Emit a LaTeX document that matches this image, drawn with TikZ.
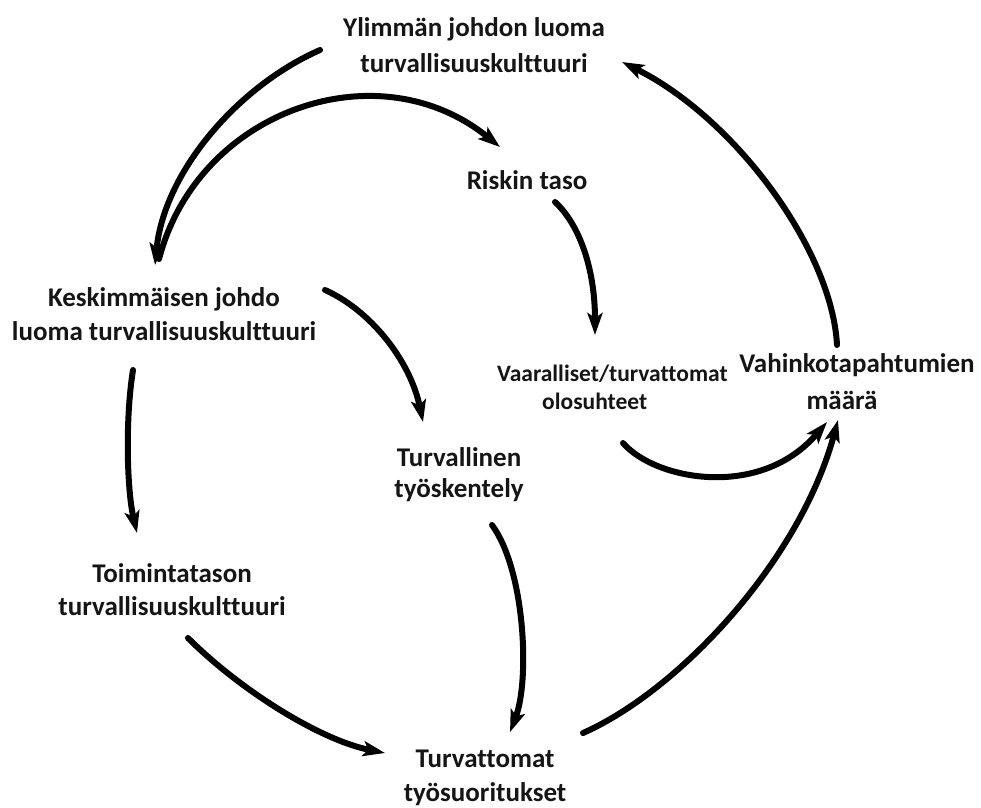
\documentclass[tikz,border=0pt]{standalone}
\usepackage{fontspec}
\setmainfont{Carlito}[Ligatures={NoCommon}]
\usetikzlibrary{arrows.meta}
\definecolor{txt}{HTML}{151515}
\begin{document}
\begin{tikzpicture}[x=1pt,y=-1pt,
  lbl/.style={font=\fontsize{27}{34}\selectfont\bfseries, align=center, inner sep=0pt, text=txt},
  arr/.style={line width=6pt, line cap=round, draw=black,
    -{Stealth[length=22pt,width=15pt,inset=5pt]}}]
\fill[white] (0,0) rectangle (981,807);
\useasboundingbox (0,0) rectangle (981,807);

% labels
\node[lbl, font=\fontsize{27}{36}\selectfont\bfseries] (ylim) at (474,45.5) {Ylimmän johdon luoma\\turvallisuuskulttuuri};
\node[lbl] (riski) at (527,180.5) {Riskin taso};
\node[lbl] (kesk) at (164,314.5) {Keskimmäisen johdo\\luoma turvallisuuskulttuuri};
\node[lbl, font=\fontsize{23.5}{28}\selectfont\bfseries, align=left, anchor=west] (vaar) at (497,387.5) {Vaaralliset/turvattomat\\\hspace*{45pt}olosuhteet};
\node[lbl, font=\fontsize{27}{37}\selectfont\bfseries] (vahin) at (857,382) {Vahinkotapahtumien\\\hspace*{-30pt}määrä};
\node[lbl, font=\fontsize{27}{31}\selectfont\bfseries] (turv) at (459,474.5) {Turvallinen\\työskentely};
\node[lbl, font=\fontsize{27}{33}\selectfont\bfseries] (toim) at (172,589.5) {Toimintatason\\turvallisuuskulttuuri};
\node[lbl] (turvat) at (485,778) {Turvattomat\\työsuoritukset};

% connector end points
\coordinate (ylimOut) at (320,50);
\coordinate (keskIn) at (155,265);
\coordinate (keskOutR) at (159,259);
\coordinate (riskiIn) at (500,147);
\coordinate (riskiOut) at (555,202);
\coordinate (vaarIn) at (595,335);
\coordinate (vaarOut) at (623,443);
\coordinate (vahinInA) at (827,422);
\coordinate (turvatOut) at (583,733);
\coordinate (vahinInB) at (838,420);
\coordinate (vahinOut) at (837,345);
\coordinate (ylimIn) at (622,62);
\coordinate (keskOutT) at (325,290);
\coordinate (turvIn) at (423,422);
\coordinate (keskOutB) at (133,370);
\coordinate (toimIn) at (137,533);
\coordinate (toimOut) at (188,638);
\coordinate (turvatInL) at (385,753);
\coordinate (turvOut) at (492,525);
\coordinate (turvatInT) at (510,732);

% connectors
\draw[arr] (ylimOut) .. controls (238,86) and (164,172) .. (keskIn);
\draw[arr] (keskOutR) .. controls (198,110) and (378,48) .. (riskiIn);
\draw[arr] (riskiOut) .. controls (580,225) and (595,270) .. (vaarIn);
\draw[arr] (vaarOut) .. controls (655,480) and (760,500) .. (vahinInA);
\draw[arr] (turvatOut) .. controls (680,690) and (800,560) .. (vahinInB);
\draw[arr] (vahinOut) .. controls (832,250) and (735,118) .. (ylimIn);
\draw[arr] (keskOutT) .. controls (370,310) and (410,360) .. (turvIn);
\draw[arr] (keskOutB) .. controls (125,420) and (127,490) .. (toimIn);
\draw[arr] (toimOut) .. controls (240,690) and (320,740) .. (turvatInL);
\draw[arr] (turvOut) .. controls (525,570) and (530,680) .. (turvatInT);
\end{tikzpicture}
\end{document}
